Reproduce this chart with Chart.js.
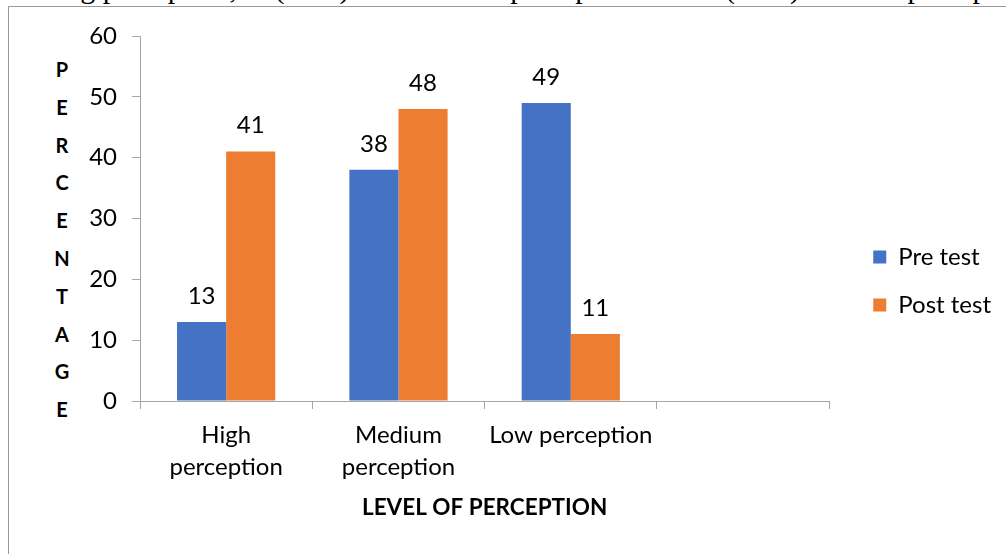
<!DOCTYPE html>
<html>
<head>
<meta charset="utf-8">
<script src="https://cdn.jsdelivr.net/npm/chart.js@4"></script>
<style>
  html, body { margin: 0; padding: 0; background: #fff; overflow: hidden; width: 1006px; height: 554px; }
  #lead { position: absolute; left: 7px; top: -27px; font: 30px/30px "Liberation Serif", serif; white-space: nowrap; color: #000; }
  #frame { position: absolute; left: 8px; top: 6px; width: 1100px; height: 700px; border: 1px solid #9a9a9a; box-sizing: border-box; }
  #ytitle { position: absolute; left: 50px; top: 51px; width: 24px; text-align: center; font: bold 20px/37.8px Lato, sans-serif; color: #000; }
  #c { position: absolute; left: 0; top: 0; }
</style>
</head>
<body>
<div id="lead">leading perception, 38(38%) has medium perception and 49(49%) has low perception</div>
<div id="frame"></div>
<div id="ytitle"></div>
<canvas id="c" width="1006" height="554" style="width:1006px;height:554px"></canvas>
<script>
// Perception levels before and after the programme (percent of respondents)
const categories = [['High', 'perception'], ['Medium', 'perception'], 'Low perception', ''];
const preTest = [13, 38, 49, null];
const postTest = [41, 48, 11, null];
const seriesNames = ['Pre test', 'Post test'];
const yMin = 0;
const yMax = 60;
const yStep = 10;
const xTitle = 'LEVEL OF PERCEPTION';
const yTitle = 'PERCENTAGE';

// Vertical, letter-by-letter y axis title
document.getElementById('ytitle').innerHTML = yTitle.split('').join('<br>');

const FONT = 'Lato';
const SIZE = 24;

// Values printed above each bar
const valueLabels = {
  id: 'valueLabels',
  afterDatasetsDraw(chart) {
    const ctx = chart.ctx;
    ctx.save();
    ctx.font = SIZE + 'px ' + FONT;
    ctx.fillStyle = '#000';
    ctx.textAlign = 'center';
    ctx.textBaseline = 'middle';
    chart.data.datasets.forEach((ds, i) => {
      chart.getDatasetMeta(i).data.forEach((bar, j) => {
        const v = ds.data[j];
        if (v === null || v === undefined) return;
        ctx.fillText(String(v), bar.x, bar.y - 26);
      });
    });
    ctx.restore();
  }
};

new Chart(document.getElementById('c'), {
  type: 'bar',
  data: {
    labels: categories,
    datasets: [
      { label: seriesNames[0], data: preTest, backgroundColor: '#4472C4', categoryPercentage: 0.57, barPercentage: 1.0 },
      { label: seriesNames[1], data: postTest, backgroundColor: '#ED7D31', categoryPercentage: 0.57, barPercentage: 1.0 }
    ]
  },
  plugins: [valueLabels],
  options: {
    responsive: false,
    animation: false,
    devicePixelRatio: 1,
    layout: { padding: { top: 36, right: 5, bottom: 28, left: 0 } },
    plugins: {
      legend: {
        position: 'right',
        labels: { boxWidth: 13, boxHeight: 13, padding: 24, color: '#000', font: { family: FONT, size: SIZE } }
      },
      tooltip: { enabled: false }
    },
    scales: {
      x: {
        grid: { offset: true, drawOnChartArea: false, tickLength: 8, color: '#a6a6a6' },
        border: { color: '#a6a6a6' },
        ticks: { padding: 11, color: '#000', autoSkip: false, maxRotation: 0, font: { family: FONT, size: SIZE, lineHeight: 1.3 } },
        title: { display: true, text: xTitle, color: '#000', font: { family: FONT, size: 22.5, weight: 'bold' }, padding: { top: 0, bottom: 5 } },
        afterFit(s) { s.height = 125; }
      },
      y: {
        min: yMin,
        max: yMax,
        ticks: { stepSize: yStep, padding: 15, color: '#000', font: { family: FONT, size: SIZE } },
        grid: { drawOnChartArea: false, tickLength: 8, color: '#a6a6a6' },
        border: { color: '#a6a6a6' },
        afterFit(s) { s.width = 140; }
      },
      gap: {
        position: 'right',
        grid: { display: false },
        border: { display: false },
        ticks: { display: false },
        afterFit(s) { s.width = 20; }
      }
    }
  }
});
</script>
</body>
</html>
